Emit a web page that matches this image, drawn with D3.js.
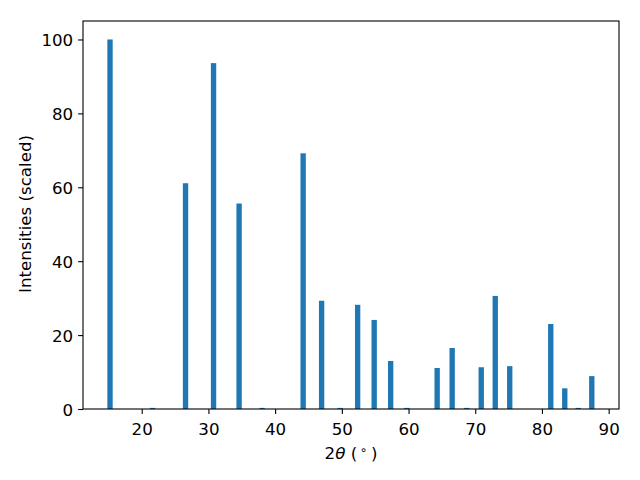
<!DOCTYPE html>
<html>
<head>
<meta charset="utf-8">
<script src="https://cdn.jsdelivr.net/npm/d3@7"></script>
<style>
  body { margin: 0; background: #fff; }
  svg text { font-family: "DejaVu Sans", sans-serif; fill: #000; }
</style>
</head>
<body>
<svg id="chart" width="640" height="480"></svg>
<script>
// Peak positions (2θ, degrees)
const twoTheta = [15.25, 21.62, 26.57, 30.77, 34.6, 38.05, 44.2, 46.97, 49.74, 52.37, 54.85, 57.32,
                  59.72, 64.29, 66.54, 68.72, 70.9, 73.0, 75.17, 81.32, 83.42, 85.44, 87.47];
// Scaled intensities
const intensities = [100, 0.3, 61.1, 93.6, 55.6, 0.3, 69.2, 29.3, 0.3, 28.2, 24.1, 13.0,
                     0.3, 11.1, 16.5, 0.3, 11.3, 30.6, 11.6, 23.0, 5.6, 0.3, 8.9];
const xTicks = [20, 30, 40, 50, 60, 70, 80, 90];
const yTicks = [0, 20, 40, 60, 80, 100];
const barWidth = 0.8;

const svg = d3.select("#chart");
const m = { left: 83, right: 619, top: 21, bottom: 409 };
const fs = 16.67;

const x = d3.scaleLinear().domain([11.2, 91.55]).range([m.left, m.right]);
const y = d3.scaleLinear().domain([0, 105]).range([m.bottom, m.top]);

svg.append("g").selectAll("rect")
  .data(twoTheta.map((t, i) => ({ t, v: intensities[i] })))
  .join("rect")
  .attr("x", d => x(d.t - barWidth / 2))
  .attr("width", d => x(d.t + barWidth / 2) - x(d.t - barWidth / 2))
  .attr("y", d => y(d.v))
  .attr("height", d => y(0) - y(d.v))
  .attr("fill", "#1f77b4");

const xAxis = svg.append("g")
  .attr("transform", `translate(0,${m.bottom})`)
  .call(d3.axisBottom(x).tickValues(xTicks).tickSize(4.9).tickPadding(4.9).tickFormat(d3.format("d")));
const yAxis = svg.append("g")
  .attr("transform", `translate(${m.left},0)`)
  .call(d3.axisLeft(y).tickValues(yTicks).tickSize(4.9).tickPadding(4.9).tickFormat(d3.format("d")));

[xAxis, yAxis].forEach(g => {
  g.select(".domain").remove();
  g.selectAll(".tick line").attr("stroke", "#000").attr("stroke-width", 1.1);
  g.selectAll(".tick text").attr("font-size", fs).attr("font-family", "DejaVu Sans").attr("fill", "#000");
});
xAxis.selectAll(".tick text").attr("dy", null).attr("y", 25.5);
yAxis.selectAll(".tick text").attr("dy", null).attr("y", 6.1);

// Frame
svg.append("rect")
  .attr("x", m.left).attr("y", m.top)
  .attr("width", m.right - m.left).attr("height", m.bottom - m.top)
  .attr("fill", "none").attr("stroke", "#000").attr("stroke-width", 1.1);

// X label: 2θ (°)
const xl = svg.append("text")
  .attr("x", (m.left + m.right) / 2).attr("y", 458.5)
  .attr("text-anchor", "middle")
  .attr("font-size", fs);
xl.append("tspan").text("2");
xl.append("tspan").attr("font-style", "italic").text("θ");
xl.append("tspan").text(" (");
xl.append("tspan").attr("font-size", fs * 0.7).attr("dx", 2.5).attr("dy", -4.5).text("∘");
xl.append("tspan").attr("dx", 4).attr("dy", 4.5).text(")");

// Y label
svg.append("text")
  .attr("transform", `translate(30.5,${(m.top + m.bottom) / 2 - 1}) rotate(-90)`)
  .attr("text-anchor", "middle")
  .attr("font-size", fs)
  .text("Intensities (scaled)");
</script>
</body>
</html>
